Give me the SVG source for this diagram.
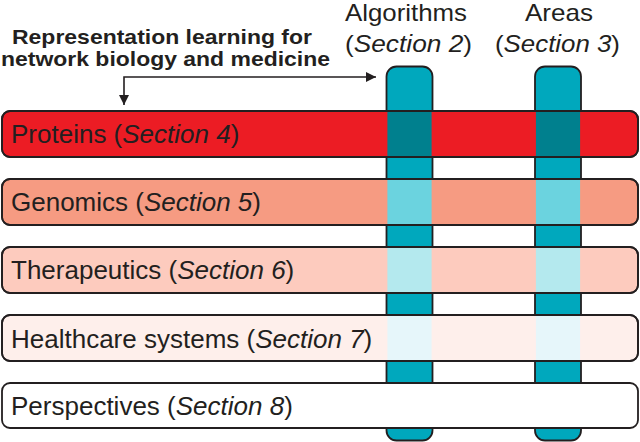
<svg xmlns="http://www.w3.org/2000/svg" width="640" height="442" viewBox="0 0 640 442">
<style>
.t{font-family:"Liberation Sans",Arial,sans-serif;fill:#231f20}
.row{font-size:26px}
.hd{font-size:24px}
.b{font-size:21px;font-weight:bold}
.i{font-style:italic}
.col{fill:#00a8bd;stroke:#231f20;stroke-width:1.8}
.bar{stroke:#231f20;stroke-width:1.8}
.edge{fill:none;stroke:#231f20;stroke-width:1.8}
.conn{fill:none;stroke:#231f20;stroke-width:1.6}
</style>
<defs>
<marker id="ah" viewBox="0 0 10 10" refX="10" refY="5" markerWidth="10" markerHeight="10" markerUnits="userSpaceOnUse" orient="auto-start-reverse">
<path d="M0,0 L10,5 L0,10 z" fill="#231f20"/>
</marker>
</defs>
<rect width="640" height="442" fill="#ffffff"/>
<g id="title">
<text class="t b" x="12" y="44" textLength="300" lengthAdjust="spacingAndGlyphs">Representation learning for</text>
<text class="t b" x="1" y="66" textLength="329" lengthAdjust="spacingAndGlyphs">network biology and medicine</text>
</g>
<g id="algorithms">
<text class="t hd" x="345" y="21" textLength="122" lengthAdjust="spacingAndGlyphs">Algorithms</text>
<text class="t hd" x="345" y="52" textLength="127" lengthAdjust="spacingAndGlyphs">(<tspan class="i">Section 2</tspan>)</text>
<rect class="col" x="386.5" y="66.5" width="46" height="374" rx="10"/>
</g>
<g id="areas">
<text class="t hd" x="525" y="21" textLength="68" lengthAdjust="spacingAndGlyphs">Areas</text>
<text class="t hd" x="495" y="52" textLength="125" lengthAdjust="spacingAndGlyphs">(<tspan class="i">Section 3</tspan>)</text>
<rect class="col" x="535" y="66.5" width="46" height="374" rx="10"/>
</g>
<g id="proteins">
<rect class="bar" x="2" y="111" width="636" height="46" rx="8" fill="#ec1c24"/>
<rect x="387.4" y="112" width="44.2" height="44" fill="#00808e"/>
<rect x="535.9" y="112" width="44.2" height="44" fill="#00808e"/>
<rect class="edge" x="2" y="111" width="636" height="46" rx="8"/>
<text class="t row" x="11" y="143">Proteins (<tspan class="i">Section 4</tspan>)</text>
</g>
<g id="genomics">
<rect class="bar" x="2" y="179" width="636" height="46" rx="8" fill="#f69b82"/>
<rect x="387.4" y="180" width="44.2" height="44" fill="#6bd3df"/>
<rect x="535.9" y="180" width="44.2" height="44" fill="#6bd3df"/>
<rect class="edge" x="2" y="179" width="636" height="46" rx="8"/>
<text class="t row" x="11" y="211">Genomics (<tspan class="i">Section 5</tspan>)</text>
</g>
<g id="therapeutics">
<rect class="bar" x="2" y="247" width="636" height="46" rx="8" fill="#fdcbbe"/>
<rect x="387.4" y="248" width="44.2" height="44" fill="#b4e9ee"/>
<rect x="535.9" y="248" width="44.2" height="44" fill="#b4e9ee"/>
<rect class="edge" x="2" y="247" width="636" height="46" rx="8"/>
<text class="t row" x="11" y="279">Therapeutics (<tspan class="i">Section 6</tspan>)</text>
</g>
<g id="healthcare">
<rect class="bar" x="2" y="315" width="636" height="46" rx="8" fill="#feefeb"/>
<rect x="387.4" y="316" width="44.2" height="44" fill="#e6f6fa"/>
<rect x="535.9" y="316" width="44.2" height="44" fill="#e6f6fa"/>
<rect class="edge" x="2" y="315" width="636" height="46" rx="8"/>
<text class="t row" x="11" y="347.5">Healthcare systems (<tspan class="i">Section 7</tspan>)</text>
</g>
<g id="perspectives">
<rect class="bar" x="2" y="383" width="636" height="45" rx="8" fill="#ffffff"/>
<text class="t row" x="11" y="415">Perspectives (<tspan class="i">Section 8</tspan>)</text>
</g>
<g id="connectors">
<path class="conn" d="M124,105 L124,77 L376,77" marker-start="url(#ah)" marker-end="url(#ah)"/>
</g>
</svg>
